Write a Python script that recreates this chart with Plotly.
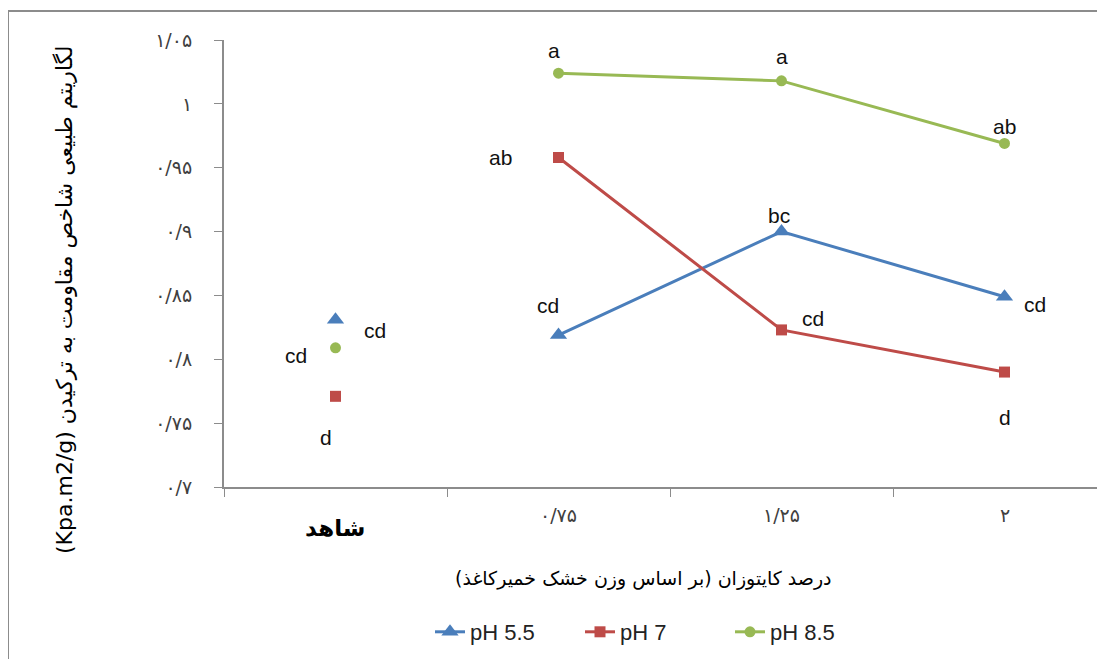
import plotly.graph_objects as go

# ---- data ----
categories = ["شاهد", "۰/۷۵", "۱/۲۵", "۲"]
ph55 = [0.831, 0.819, 0.900, 0.849]
ph7 = [0.771, 0.958, 0.823, 0.790]
ph85 = [0.809, 1.024, 1.018, 0.969]
letters_55 = ["cd", "cd", "bc", "cd"]
letters_7 = ["d", "ab", "cd", "d"]
letters_85 = ["cd", "a", "a", "ab"]
series_names = ["pH 5.5", "pH 7", "pH 8.5"]
ytick_vals = [0.70, 0.75, 0.80, 0.85, 0.90, 0.95, 1.00, 1.05]
ytick_text = ["۰/۷", "۰/۷۵", "۰/۸", "۰/۸۵", "۰/۹", "۰/۹۵", "۱", "۱/۰۵"]
x_title = "درصد کایتوزان (بر اساس وزن خشک خمیرکاغذ)"
y_title = "(Kpa.m2/g) لگاریتم طبیعی شاخص مقاومت به ترکیدن"

colors = ["#4A7EBB", "#BE4B48", "#98B954"]
symbols = ["triangle-up", "square", "circle"]
msizes = [15, 11, 11]

# label offsets (pixels) per series per category
offs_55 = [(39, -11), (-11, 30), (-3, 16), (30, -8)]
offs_7 = [(-10, -41), (-58, 0), (31, 11), (0, -45)]
offs_85 = [(-40, -8), (-5, 23), (0, 24), (0, 17)]

# plot area geometry (screen pixels; page body has an 8px margin)
PL, PT, PB, PR = 224, 40, 487, 1105
PW, PH = PR - PL, PB - PT


def px(x):
    return (x - PL) / PW


def py(y):
    return (PB - y) / PH


fig = go.Figure()
all_vals = [ph55, ph7, ph85]
all_letters = [letters_55, letters_7, letters_85]
all_offs = [offs_55, offs_7, offs_85]

for i, (vals, name) in enumerate(zip(all_vals, series_names)):
    fig.add_trace(go.Scatter(
        x=categories[:1], y=vals[:1], mode="markers", showlegend=False,
        marker=dict(symbol=symbols[i], size=msizes[i], color=colors[i]),
        hoverinfo="skip"))
    fig.add_trace(go.Scatter(
        x=categories[1:], y=vals[1:], mode="lines+markers", name=name,
        line=dict(color=colors[i], width=3),
        marker=dict(symbol=symbols[i], size=msizes[i], color=colors[i])))

annotations = []
for vals, lets, offs in zip(all_vals, all_letters, all_offs):
    for c, v, t, (dx, dy) in zip(categories, vals, lets, offs):
        annotations.append(dict(
            x=c, y=v, xref="x", yref="y", text=t, showarrow=False,
            xshift=dx, yshift=dy,
            font=dict(family="Liberation Sans, Arial", size=21, color="#111111")))

for j, c in enumerate(categories):
    if j == 0:
        annotations.append(dict(
            x=c, y=0, xref="x", yref="paper", text="<b>" + c + "</b>", showarrow=False,
            yanchor="middle", yshift=-41,
            font=dict(family="DejaVu Sans", size=23, color="#000000")))
    else:
        annotations.append(dict(
            x=c, y=0, xref="x", yref="paper", text=c, showarrow=False,
            yanchor="middle", yshift=-28,
            font=dict(family="DejaVu Sans", size=19, color="#404040")))

annotations.append(dict(
    x=px(643), y=py(578), xref="paper", yref="paper",
    text=x_title, showarrow=False, xanchor="center", yanchor="middle",
    font=dict(family="DejaVu Sans", size=19, color="#000000")))
annotations.append(dict(
    x=px(65), y=py(300), xref="paper", yref="paper",
    text=y_title, showarrow=False, textangle=-90, xanchor="center", yanchor="middle",
    font=dict(family="DejaVu Sans", size=22, color="#000000")))

fig.update_layout(
    width=1097, height=651,
    margin=dict(l=PL - 8, r=0, t=PT - 8, b=651 - (PB - 8)),
    plot_bgcolor="white", paper_bgcolor="white",
    showlegend=True,
    legend=dict(orientation="h", x=px(655), xanchor="center",
                y=py(632), yanchor="middle",
                font=dict(family="Liberation Sans, Arial", size=22, color="#222222"),
                entrywidth=105, entrywidthmode="pixels"),
    annotations=annotations,
    shapes=[dict(type="rect", xref="paper", yref="paper",
                 x0=px(8), x1=1.2, y0=-1, y1=py(11),
                 line=dict(color="#8C8C8C", width=2), fillcolor="rgba(0,0,0,0)",
                 layer="below")],
)

fig.update_xaxes(
    type="category", categoryorder="array", categoryarray=categories,
    range=[-0.5, -0.5 + PW / ((1003 - 334) / 3)], tickson="boundaries", ticks="outside",
    ticklen=8, tickcolor="#8C8C8C", showticklabels=False, showgrid=False, zeroline=False,
    showline=True, linecolor="#8C8C8C", linewidth=2)
fig.update_yaxes(
    range=[0.7, 1.05], tickmode="array", tickvals=ytick_vals, ticktext=ytick_text,
    ticks="outside", ticklen=8, tickcolor="#8C8C8C", showgrid=False, zeroline=False,
    showline=True, linecolor="#8C8C8C", linewidth=2, ticklabelstandoff=18,
    tickfont=dict(family="DejaVu Sans", size=19, color="#404040"))

fig.write_html("out.html")
